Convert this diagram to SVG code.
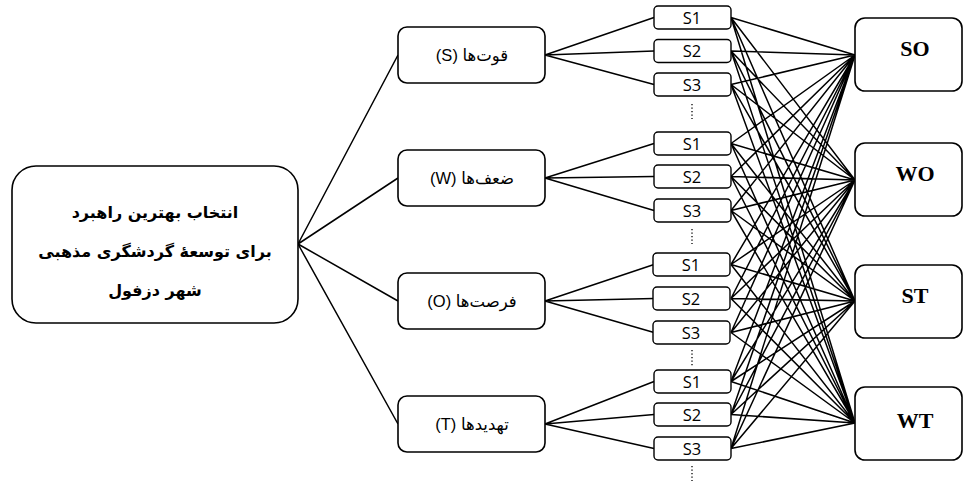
<svg xmlns="http://www.w3.org/2000/svg" width="965" height="481" viewBox="0 0 965 481">
<style>
.box{fill:#fff;stroke:#000;stroke-width:1.6}
.sm{fill:#fff;stroke:#000;stroke-width:1.4}
.ln{stroke:#000;stroke-width:1.5;fill:none}
.dots{stroke:#000;stroke-width:1.3;stroke-dasharray:1.3 2.2}
.main{font-family:"DejaVu Sans",sans-serif;font-weight:bold;font-size:16px;text-anchor:middle}
.cat{font-family:"Liberation Sans","DejaVu Sans",sans-serif;font-size:16.5px;text-anchor:middle}
.s{font-family:"Open Sans","Liberation Sans",sans-serif;font-size:16.5px;text-anchor:middle}
.r{font-family:"Liberation Serif",serif;font-weight:bold;font-size:22px;text-anchor:middle}
</style>
<rect width="965" height="481" fill="#fff"/>
<g id="connectors">
<path class="ln" d="M298 244L398 55M298 244L398 178M298 244L398 301M298 244L398 424"/>
<path class="ln" d="M545 55L654 17.5M545 55L654 51M545 55L654 84.5"/>
<path class="ln" d="M545 178L654 143.5M545 178L654 176.5M545 178L654 210.5"/>
<path class="ln" d="M545 301L654 264.5M545 301L654 298.5M545 301L654 332.5"/>
<path class="ln" d="M545 424L654 381.5M545 424L654 414.5M545 424L654 448.5"/>
<path class="ln" d="M731 17.5L855 55M731 17.5L855 180M731 17.5L855 301M731 17.5L855 423
M731 51L855 55M731 51L855 180M731 51L855 301M731 51L855 423
M731 84.5L855 55M731 84.5L855 180M731 84.5L855 301M731 84.5L855 423
M731 143.5L855 55M731 143.5L855 180M731 143.5L855 301M731 143.5L855 423
M731 176.5L855 55M731 176.5L855 180M731 176.5L855 301M731 176.5L855 423
M731 210.5L855 55M731 210.5L855 180M731 210.5L855 301M731 210.5L855 423
M731 264.5L855 55M731 264.5L855 180M731 264.5L855 301M731 264.5L855 423
M731 298.5L855 55M731 298.5L855 180M731 298.5L855 301M731 298.5L855 423
M731 332.5L855 55M731 332.5L855 180M731 332.5L855 301M731 332.5L855 423
M731 381.5L855 55M731 381.5L855 180M731 381.5L855 301M731 381.5L855 423
M731 414.5L855 55M731 414.5L855 180M731 414.5L855 301M731 414.5L855 423
M731 448.5L855 55M731 448.5L855 180M731 448.5L855 301M731 448.5L855 423"/>
<path class="dots" d="M692 104V119M692 229V244M692 350V366M692 466V481"/>
</g>
<g id="goal">
<rect class="box" x="12" y="166" width="286" height="157" rx="24"/>
<text class="main" x="155" y="218" direction="rtl">انتخاب بهترین راهبرد</text>
<text class="main" x="155" y="257" direction="rtl">برای توسعهٔ گردشگری مذهبی</text>
<text class="main" x="155" y="296" direction="rtl">شهر دزفول</text>
</g>
<g id="cat-S"><rect class="box" x="398" y="27" width="147" height="56" rx="9"/><text class="cat" x="472" y="61" direction="rtl">قوت‌ها (S)</text></g>
<g id="cat-W"><rect class="box" x="398" y="150" width="147" height="56" rx="9"/><text class="cat" x="472" y="184" direction="rtl">ضعف‌ها (W)</text></g>
<g id="cat-O"><rect class="box" x="398" y="273" width="147" height="56" rx="9"/><text class="cat" x="472" y="307" direction="rtl">فرصت‌ها (O)</text></g>
<g id="cat-T"><rect class="box" x="398" y="396" width="147" height="56" rx="9"/><text class="cat" x="472" y="430" direction="rtl">تهدیدها (T)</text></g>
<g id="S-1"><rect class="sm" x="654" y="6" width="77" height="23" rx="4"/><text class="s" x="692" y="23.5">S1</text></g>
<g id="S-2"><rect class="sm" x="654" y="39.5" width="77" height="23" rx="4"/><text class="s" x="692" y="57">S2</text></g>
<g id="S-3"><rect class="sm" x="654" y="73" width="77" height="23" rx="4"/><text class="s" x="692" y="90.5">S3</text></g>
<g id="W-1"><rect class="sm" x="654" y="132" width="77" height="23" rx="4"/><text class="s" x="692" y="149.5">S1</text></g>
<g id="W-2"><rect class="sm" x="654" y="165" width="77" height="23" rx="4"/><text class="s" x="692" y="182.5">S2</text></g>
<g id="W-3"><rect class="sm" x="654" y="199" width="77" height="23" rx="4"/><text class="s" x="692" y="216.5">S3</text></g>
<g id="O-1"><rect class="sm" x="653" y="253" width="77" height="23" rx="4"/><text class="s" x="691" y="270.5">S1</text></g>
<g id="O-2"><rect class="sm" x="653" y="287" width="77" height="23" rx="4"/><text class="s" x="691" y="304.5">S2</text></g>
<g id="O-3"><rect class="sm" x="653" y="321" width="77" height="23" rx="4"/><text class="s" x="691" y="338.5">S3</text></g>
<g id="T-1"><rect class="sm" x="654" y="370" width="77" height="23" rx="4"/><text class="s" x="692" y="387.5">S1</text></g>
<g id="T-2"><rect class="sm" x="654" y="403" width="77" height="23" rx="4"/><text class="s" x="692" y="420.5">S2</text></g>
<g id="T-3"><rect class="sm" x="654" y="437" width="77" height="23" rx="4"/><text class="s" x="692" y="454.5">S3</text></g>
<g id="SO"><rect class="box" x="855" y="18" width="107" height="73" rx="10"/><text class="r" x="915" y="56">SO</text></g>
<g id="WO"><rect class="box" x="855" y="143" width="107" height="73" rx="10"/><text class="r" x="915" y="181">WO</text></g>
<g id="ST"><rect class="box" x="855" y="265" width="107" height="73" rx="10"/><text class="r" x="915" y="303">ST</text></g>
<g id="WT"><rect class="box" x="855" y="387" width="107" height="73" rx="10"/><text class="r" x="915" y="428">WT</text></g>
</svg>
